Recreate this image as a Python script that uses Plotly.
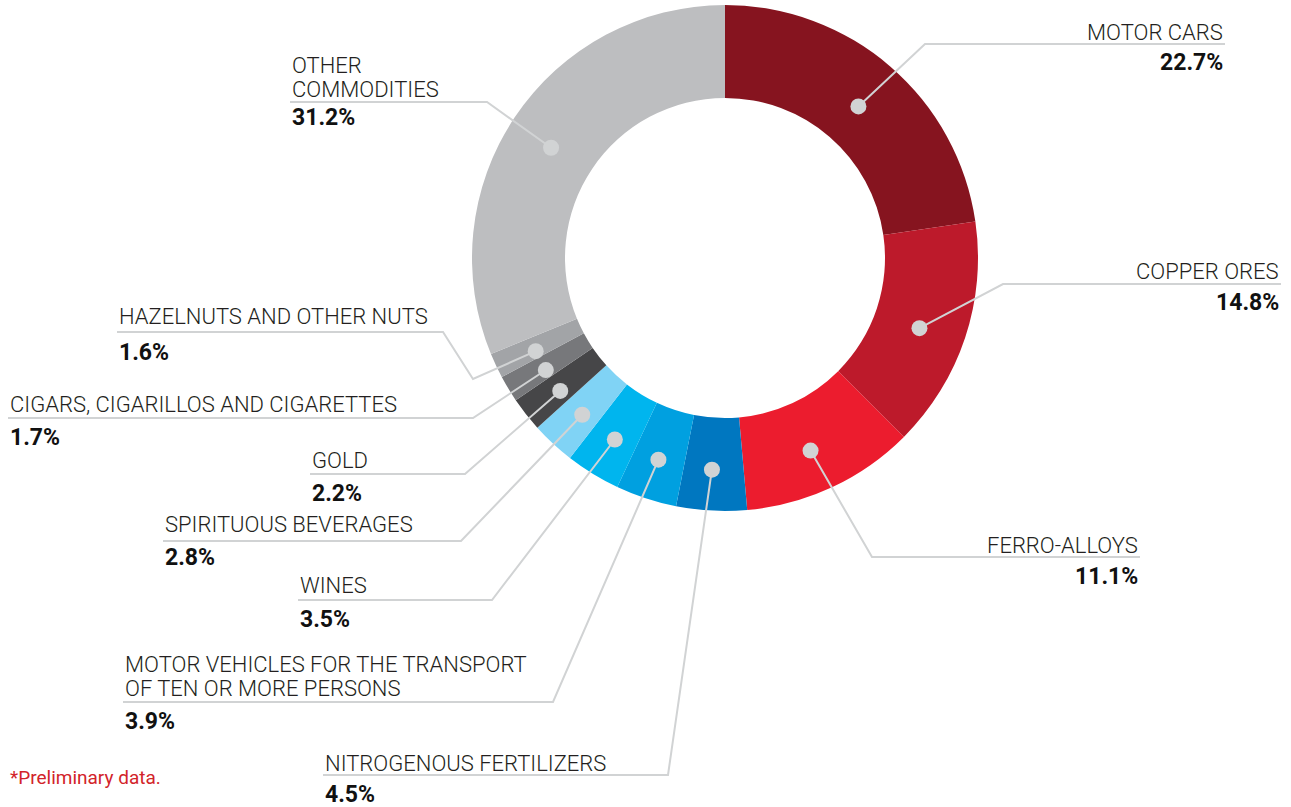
import math
import plotly.graph_objects as go

# share of exports by commodity, clockwise from 12 o'clock
commodities = [
    "MOTOR CARS",
    "COPPER ORES",
    "FERRO-ALLOYS",
    "NITROGENOUS FERTILIZERS",
    "MOTOR VEHICLES FOR THE TRANSPORT<br>OF TEN OR MORE PERSONS",
    "WINES",
    "SPIRITUOUS BEVERAGES",
    "GOLD",
    "CIGARS, CIGARILLOS AND CIGARETTES",
    "HAZELNUTS AND OTHER NUTS",
    "OTHER<br>COMMODITIES",
]
shares = [22.7, 14.8, 11.1, 4.5, 3.9, 3.5, 2.8, 2.2, 1.7, 1.6, 31.2]
slice_colors = [
    "#86141f", "#bd1a2b", "#ec1c2e",
    "#0077c0", "#00a0e0", "#00b5ee", "#80d3f5",
    "#464648", "#77787b", "#a2a4a7", "#bdbec0",
]

W, H = 1291, 807
CX, CY = 725, 258          # donut centre, px
R_OUT, R_IN = 253, 160
DOT_CX, DOT_CY, R_DOT = 723, 263, 207

# label placement: (anchor, text x, name y, pct y, leader path after the dot)
placement = [
    ("right", 1225, 32, 62, [(925, 44), (1225, 44)]),
    ("right", 1281, 271, 302, [(1003, 284), (1281, 284)]),
    ("right", 1140, 545, 576, [(872, 557), (1140, 557)]),
    ("left", 323, 763, 794, [(668, 775), (323, 775)]),
    ("left", 123, 676, 721, [(553, 702), (123, 702)]),
    ("left", 298, 585, 619, [(492, 600), (298, 600)]),
    ("left", 163, 524, 557, [(461, 541), (163, 541)]),
    ("left", 310, 460, 493, [(465, 474), (310, 474)]),
    ("left", 8, 404, 437, [(473, 418), (8, 418)]),
    ("left", 117, 316, 352, [(473, 379), (443, 332), (117, 332)]),
    ("left", 290, 77, 117, [(487, 102), (290, 102)]),
]

LINE_COL = "#d1d3d4"
NAME_FONT = dict(family="Roboto", size=22, color="#231f20", weight=300)
PCT_FONT = dict(family="Roboto", size=23, color="#111111", weight=700)
LINE_GAP = 24

fig = go.Figure()

fig.add_trace(go.Pie(
    labels=[c.replace("<br>", " ") for c in commodities],
    values=shares,
    sort=False,
    direction="clockwise",
    rotation=0,
    hole=R_IN / R_OUT,
    marker=dict(colors=slice_colors, line=dict(width=0)),
    textinfo="none",
    hoverinfo="label+percent",
    showlegend=False,
    domain=dict(
        x=[(CX - R_OUT) / W, (CX + R_OUT) / W],
        y=[(H - CY - R_OUT) / H, (H - CY + R_OUT) / H],
    ),
))

# empty trace so the pixel-space axes exist
fig.add_trace(go.Scatter(x=[], y=[], showlegend=False))

shapes = []
annotations = []
cum = 0
for name, val, (anchor, tx, ny, py, path) in zip(commodities, shares, placement):
    ang = math.radians((cum + val / 2) / 100 * 360)
    cum += val
    dx = DOT_CX + R_DOT * math.sin(ang)
    dy = DOT_CY - R_DOT * math.cos(ang)

    pts = [(dx, dy)] + path
    d = "M {:.1f} {:.1f} ".format(*pts[0]) + " ".join("L {:.1f} {:.1f}".format(*p) for p in pts[1:])
    shapes.append(dict(type="path", path=d, xref="x", yref="y",
                       line=dict(color=LINE_COL, width=2), layer="above"))
    shapes.append(dict(type="circle", xref="x", yref="y",
                       xsizemode="pixel", ysizemode="pixel",
                       xanchor=dx, yanchor=dy, x0=-8, x1=8, y0=-8, y1=8,
                       fillcolor=LINE_COL, line=dict(width=0), layer="above"))

    lines = name.split("<br>")
    for i, ln in enumerate(lines):
        y = ny + (i - (len(lines) - 1) / 2) * LINE_GAP
        annotations.append(dict(x=tx, y=y, xref="x", yref="y", text=ln,
                                xanchor=anchor, yanchor="middle", align=anchor,
                                showarrow=False, font=NAME_FONT))
    annotations.append(dict(x=tx, y=py, xref="x", yref="y", text=f"{val}%",
                            xanchor=anchor, yanchor="middle", align=anchor,
                            showarrow=False, font=PCT_FONT))

annotations.append(dict(x=8, y=777, xref="x", yref="y", text="*Preliminary data.",
                        xanchor="left", yanchor="middle", showarrow=False,
                        font=dict(family="Roboto", size=19, color="#d2232a")))

fig.update_layout(
    width=W, height=H,
    margin=dict(l=0, r=0, t=0, b=0),
    paper_bgcolor="white", plot_bgcolor="rgba(0,0,0,0)",
    xaxis=dict(range=[0, W], visible=False, fixedrange=True),
    yaxis=dict(range=[H, 0], visible=False, fixedrange=True),
    shapes=shapes,
    annotations=annotations,
)

# drop the browser's default body margin so the figure sits at 0,0
fig.write_html("out.html", config={"displayModeBar": False},
               post_script="document.body.style.margin='0';")
